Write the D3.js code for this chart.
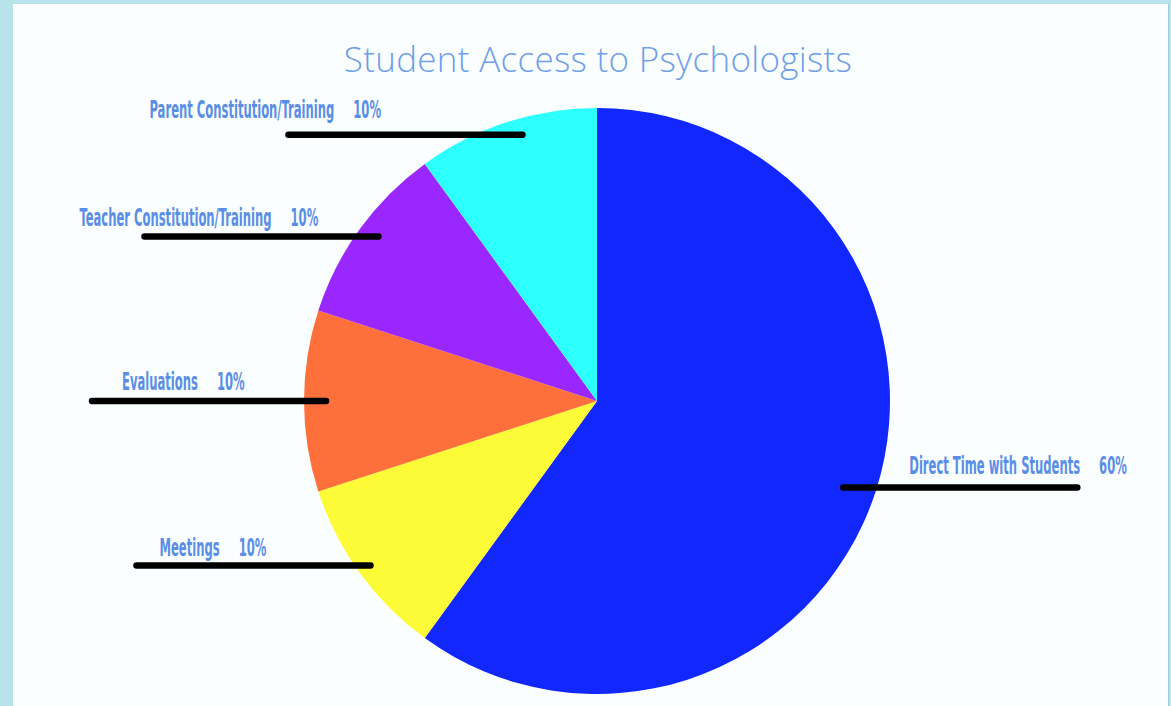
<!DOCTYPE html>
<html>
<head>
<meta charset="utf-8">
<script src="https://cdn.jsdelivr.net/npm/d3@7"></script>
<style>
  html, body { margin: 0; padding: 0; background: #b9e3ea; }
  svg { display: block; }
</style>
</head>
<body>
<svg id="chart" width="1171" height="706"></svg>
<script>
// ---- data ----
const categories = ["Direct Time with Students", "Meetings", "Evaluations", "Teacher Constitution/Training", "Parent Constitution/Training"];
const values = [60, 10, 10, 10, 10];
const percentLabels = ["60%", "10%", "10%", "10%", "10%"];
const colors = ["#1127fb", "#fdfb38", "#fe703b", "#9a27fd", "#2dfffd"];
const title = "Student Access to Psychologists";

// ---- layout (styling) ----
const W = 1171, H = 706;
const cx = 597, cy = 401, R = 293;
const anchorR = 280;      // radius where leader line meets slice
const lineLen = 234;
// text offset relative to the outer end of each leader line [dx, dy]
const labelNudge = [[66, -14], [23, -10], [30, -11], [-65, -10], [-139, -17]];
const lineInset = [-20, 0, 9, 8, 12];

const svg = d3.select("#chart");

// background + panel
svg.append("rect").attr("width", W).attr("height", H).attr("fill", "#b9e3ea");
svg.append("rect").attr("x", 1165).attr("y", 4).attr("width", 4).attr("height", H).attr("fill", "#9ccbd3");
svg.append("rect").attr("x", 13).attr("y", 4).attr("width", 1155).attr("height", H).attr("fill", "#fafeff");

// title
svg.append("text")
  .attr("x", 598).attr("y", 72)
  .attr("text-anchor", "middle")
  .attr("font-family", "'Open Sans', Lato, sans-serif")
  .attr("font-weight", 300)
  .attr("font-size", 35)
  .attr("letter-spacing", 0.3)
  .attr("fill", "#6f9fe8")
  .text(title);

const pie = d3.pie().sort(null).value(d => d)(values);
const arc = d3.arc().innerRadius(0).outerRadius(R);

const g = svg.append("g").attr("transform", `translate(${cx},${cy})`);
g.selectAll("path").data(pie).join("path")
  .attr("d", arc)
  .attr("fill", (d, i) => colors[i]);

// labels
const sx = 0.515;
const fs = 25;
const labelFont = "'Liberation Sans Narrow', 'DejaVu Sans Condensed', sans-serif";
pie.forEach((d, i) => {
  const mid = (d.startAngle + d.endAngle) / 2;
  const right = Math.sin(mid) > 0;
  const ax = cx + anchorR * Math.sin(mid);
  const ay = cy - anchorR * Math.cos(mid);
  let x1, x2;
  if (right) { x1 = ax + lineInset[i]; x2 = x1 + lineLen; }
  else { x2 = ax + lineInset[i]; x1 = x2 - lineLen; }
  svg.append("line")
    .attr("x1", x1).attr("x2", x2).attr("y1", ay).attr("y2", ay)
    .attr("stroke", "#000").attr("stroke-width", 6.5).attr("stroke-linecap", "round");

  const tx = x1 + labelNudge[i][0];
  const ty = ay + labelNudge[i][1];
  const lg = svg.append("g").attr("transform", `translate(${tx},${ty}) scale(${sx},1)`);
  const t1 = lg.append("text")
    .attr("font-family", labelFont)
    .attr("font-weight", 700)
    .attr("font-size", fs)
    .attr("fill", "#5a8ee6")
    .text(categories[i]);
  const w = t1.node().getComputedTextLength();
  lg.append("text")
    .attr("x", w + 19 / sx)
    .attr("font-family", labelFont)
    .attr("font-weight", 700)
    .attr("font-size", fs)
    .attr("fill", "#5a8ee6")
    .text(percentLabels[i]);
});
</script>
</body>
</html>
